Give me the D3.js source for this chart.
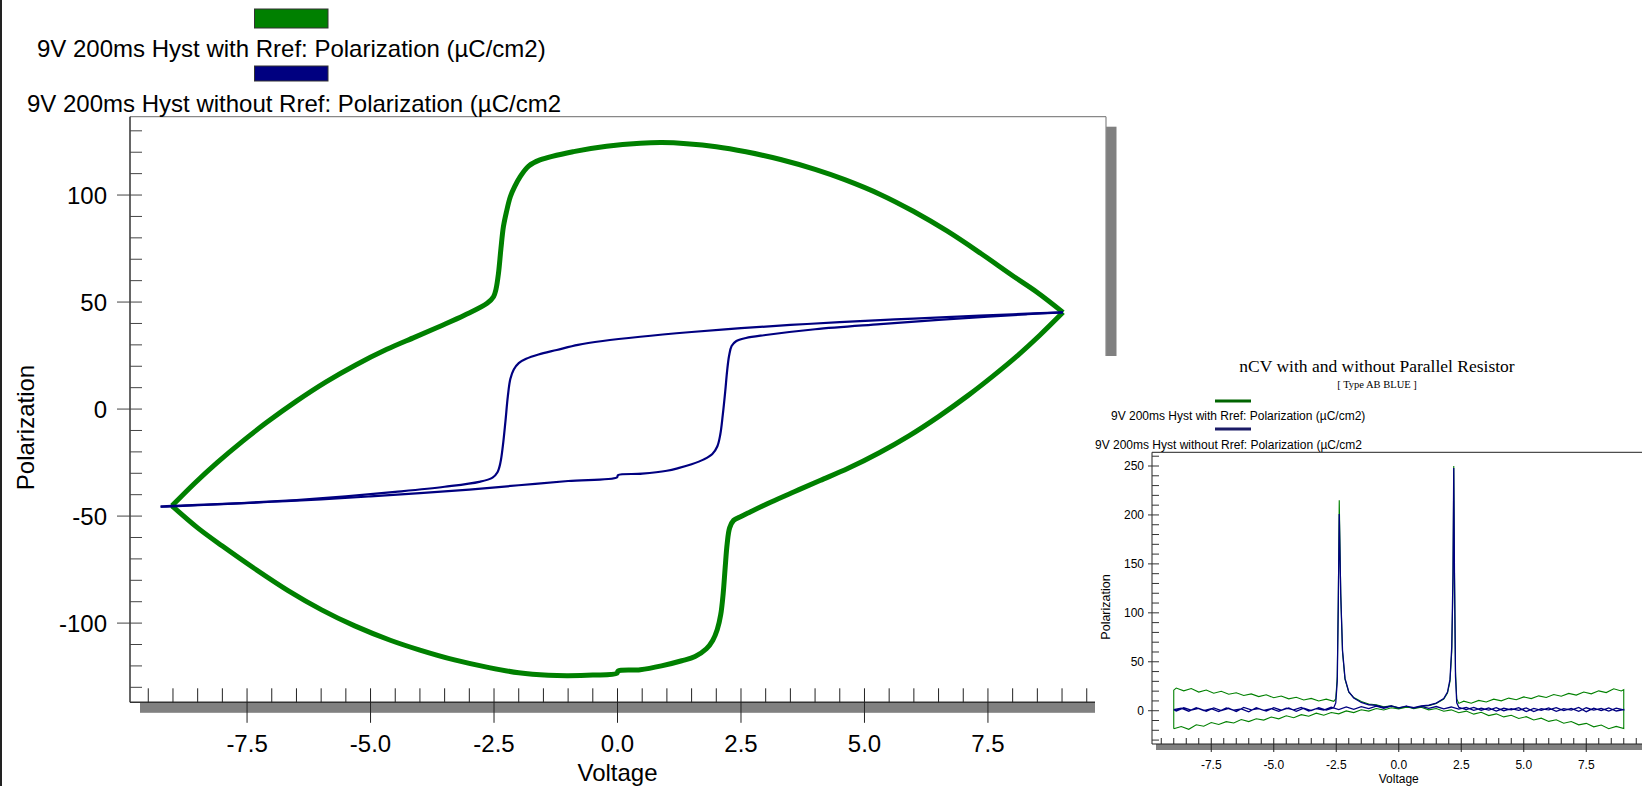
<html><head>
<script src="https://cdnjs.cloudflare.com/ajax/libs/d3/7.8.5/d3.min.js"></script>
<style>
body { margin: 0; background: #fff; }
svg { display: block; font-family: "Liberation Sans", Arial, sans-serif; }
</style>
</head>
<body>
<div id="chart"></div>
<script>
// ---- data ----
// main plot, [voltage, polarization]
// with Rref (green): lower branch swept up, upper branch swept back down
const greenLower = [[-9.02,-45.2],[-8.5,-55.5],[-8.0,-64],[-7.35,-74.5],[-6.67,-84.8],[-5.99,-93.8],[-5.32,-101.3],
  [-4.6,-108],[-4.0,-112.6],[-3.3,-117.2],[-2.6,-120.8],[-2.0,-123.2],[-1.4,-124.4],[-1.0,-124.6],[-0.5,-124.3],
  [-0.01,-123.4],[0.01,-122.4],[0.46,-121.8],[0.89,-120.0],[1.3,-117.6],[1.57,-115.6],[1.8,-112],[1.93,-108],
  [2.02,-103],[2.09,-96],[2.14,-86],[2.18,-74],[2.22,-63],[2.27,-55.5],[2.35,-52],[2.5,-50.2],[2.64,-48.6],
  [3.1,-43.5],[3.59,-38.5],[4.1,-33.4],[4.67,-27.7],[5.3,-20.4],[5.9,-12.5],[6.5,-3.5],[7.1,6.4],[7.6,15.4],
  [8.1,25],[8.55,34.5],[9.02,45.2]];
const greenUpper = [[9.02,45.2],[8.5,54.5],[8.0,62.3],[7.35,72.8],[6.67,83.2],[5.99,92.4],[5.32,100.3],[4.6,107.2],
  [4.0,112.0],[3.3,116.6],[2.6,120.2],[2.0,122.6],[1.4,124.0],[0.9,124.5],[0.46,124.2],[-0.22,122.8],[-0.89,120.3],
  [-1.57,116.4],[-1.8,113.5],[-1.97,108.6],[-2.08,104],[-2.17,99.2],[-2.25,92],[-2.31,85.2],[-2.36,75],[-2.41,63.4],
  [-2.46,56],[-2.51,52.5],[-2.64,49.4],[-3.1,43.8],[-3.59,38.7],[-4.1,33.6],[-4.67,27.9],[-5.3,20.6],[-5.9,12.7],
  [-6.5,3.7],[-7.1,-6.2],[-7.6,-15.2],[-8.1,-24.9],[-8.55,-34.4],[-9.02,-45.2]];
// without Rref (blue)
const blueUpper = [[9.02,45.2],[8.0,44.3],[7.0,43.3],[6.0,42.3],[5.32,41.6],[4.5,40.6],[3.5,39.3],[2.5,37.8],[1.5,36.0],
  [0.46,33.8],[-0.3,31.8],[-0.8,30],[-1.23,27.6],[-1.6,25.5],[-1.85,23.5],[-2.0,21.5],[-2.1,18.5],[-2.17,14],[-2.22,6],
  [-2.27,-6],[-2.32,-17],[-2.37,-25],[-2.43,-29.5],[-2.53,-32],[-2.8,-34],[-3.5,-36.3],[-4.5,-38.7],[-5.5,-40.8],
  [-6.5,-42.5],[-7.5,-43.8],[-8.5,-44.8],[-9.02,-45.2],[-9.25,-45.6]];
const blueLower = [[-9.25,-45.6],[-9.02,-45.5],[-8,-44.4],[-7,-43.3],[-6,-42.2],[-5,-40.8],[-4,-39.3],[-3,-37.6],[-2,-35.6],
  [-1,-33.6],[-0.01,-31.9],[0.01,-30.9],[0.5,-30.2],[1.0,-28.8],[1.23,-27.6],[1.5,-25.8],[1.75,-23.5],[1.92,-21],
  [2.02,-17.5],[2.08,-12],[2.13,-3],[2.18,8],[2.22,18],[2.26,25],[2.31,29.5],[2.4,31.7],[2.6,33.2],[3.0,34.6],
  [4.0,37.3],[5.32,39.7],[6.5,41.7],[7.5,43.2],[8.3,44.3],[9.02,45.2]];

// inset (nCV), [voltage, polarization]
const insetGreen = [[-9.0,-18.5],[-8.7,-16.2],[-8.4,-19.0],[-8.1,-14.3],[-7.8,-15.8],[-7.5,-12.1],[-7.2,-14.0],[-6.9,-11.2],
  [-6.6,-12.5],[-6.3,-9.0],[-6.0,-11.1],[-5.7,-8.2],[-5.4,-9.6],[-5.1,-6.4],[-4.8,-8.3],[-4.5,-5.2],[-4.2,-7.1],[-3.9,-4.0],
  [-3.6,-5.6],[-3.3,-2.5],[-3.0,-4.6],[-2.7,-1.8],[-2.4,-3.2],[-2.1,-0.2],[-1.8,-1.9],[-1.5,1.0],[-1.2,-0.4],[-0.9,2.2],
  [-0.6,0.8],[-0.3,3.0],[0.0,1.9],[0.3,3.5],[0.6,2.8],[0.9,4.5],[1.2,5.0],[1.5,7.5],[1.8,12],[1.95,18],[2.05,30],
  [2.12,60],[2.17,130],[2.2,250],[2.23,140],[2.27,40],[2.32,12],[2.4,7.5],[2.6,9.8],[2.9,7.6],[3.2,10.5],[3.5,8.9],
  [3.8,11.8],[4.1,10.1],[4.4,12.9],[4.7,11.2],[5.0,14.1],[5.3,12.4],[5.6,15.2],[5.9,13.5],[6.2,16.6],[6.5,14.8],
  [6.8,17.7],[7.1,16.0],[7.4,19.1],[7.7,17.2],[8.0,20.3],[8.3,18.5],[8.6,22.4],[8.9,20.2],[9.0,21.5],
  [9.0,-18.3],[8.7,-16.0],[8.4,-18.4],[8.1,-14.6],[7.8,-16.5],[7.5,-12.9],[7.2,-14.4],[6.9,-11.0],[6.6,-12.8],[6.3,-9.3],
  [6.0,-10.9],[5.7,-7.6],[5.4,-9.5],[5.1,-6.1],[4.8,-7.9],[4.5,-4.6],[4.2,-6.3],[3.9,-3.2],[3.6,-5.0],[3.3,-1.6],
  [3.0,-3.5],[2.7,-0.4],[2.4,-2.0],[2.1,0.9],[1.8,-0.5],[1.5,2.3],[1.2,0.9],[0.9,3.6],[0.6,2.0],[0.3,4.2],[0.0,2.9],
  [-0.3,4.9],[-0.6,4.0],[-0.9,6.1],[-1.2,6.8],[-1.5,9.4],[-1.8,13.5],[-2.0,19],[-2.15,32],[-2.25,60],[-2.32,120],
  [-2.38,215],[-2.42,110],[-2.46,35],[-2.52,12],[-2.6,9.6],[-2.9,11.8],[-3.2,9.9],[-3.5,12.6],[-3.8,11.0],[-4.1,13.7],
  [-4.4,12.1],[-4.7,15.0],[-5.0,13.2],[-5.3,16.3],[-5.6,14.4],[-5.9,17.2],[-6.2,15.6],[-6.5,18.4],[-6.8,16.9],
  [-7.1,19.8],[-7.4,17.9],[-7.7,21.2],[-8.0,19.0],[-8.3,22.6],[-8.6,20.3],[-8.9,23.1],[-9.0,21.0],[-9.0,-18.5]];
const insetBlue = [[-9.0,1.0],[-8.7,2.6],[-8.4,-0.5],[-8.1,3.1],[-7.8,0.2],[-7.5,2.0],[-7.2,-0.8],[-6.9,2.8],[-6.6,0.5],
  [-6.3,1.9],[-6.0,-1.2],[-5.7,3.0],[-5.4,0.4],[-5.1,2.2],[-4.8,-0.6],[-4.5,2.7],[-4.2,0.9],[-3.9,3.4],[-3.6,-0.3],
  [-3.3,2.1],[-3.0,0.6],[-2.7,3.6],[-2.4,1.2],[-2.1,3.9],[-1.8,1.5],[-1.5,4.2],[-1.2,2.1],[-0.9,4.6],[-0.6,2.4],
  [-0.3,4.8],[0.0,2.9],[0.3,4.7],[0.6,3.1],[0.9,5.0],[1.2,5.6],[1.5,7.8],[1.8,12.5],[1.95,19],[2.05,32],[2.12,65],
  [2.17,140],[2.2,248],[2.23,135],[2.27,35],[2.32,8],[2.4,3.5],[2.7,1.2],[3.0,3.4],[3.3,0.5],[3.6,2.9],[3.9,-0.4],
  [4.2,2.5],[4.5,0.8],[4.8,3.2],[5.1,-0.9],[5.4,2.4],[5.7,0.3],[6.0,2.8],[6.3,-0.6],[6.6,2.1],[6.9,0.7],[7.2,3.3],
  [7.5,-1.0],[7.8,2.6],[8.1,0.2],[8.4,2.9],[8.7,-0.3],[9.0,1.2],
  [9.0,0.8],[8.7,2.7],[8.4,-0.4],[8.1,2.3],[7.8,0.6],[7.5,3.0],[7.2,-0.7],[6.9,2.4],[6.6,0.1],[6.3,3.2],[6.0,0.9],
  [5.7,2.0],[5.4,-0.8],[5.1,2.9],[4.8,0.4],[4.5,2.2],[4.2,-0.2],[3.9,3.1],[3.6,0.7],[3.3,2.6],[3.0,0.3],[2.7,3.4],
  [2.4,1.6],[2.1,3.8],[1.8,1.9],[1.5,4.3],[1.2,2.4],[0.9,4.5],[0.6,2.6],[0.3,4.6],[0.0,2.7],[-0.3,4.9],[-0.6,3.3],
  [-0.9,5.4],[-1.2,6.1],[-1.5,8.4],[-1.8,13],[-2.0,19.5],[-2.15,33],[-2.25,62],[-2.32,118],[-2.38,201],[-2.42,105],
  [-2.46,30],[-2.52,8],[-2.6,3.0],[-2.9,0.6],[-3.2,3.1],[-3.5,0.2],[-3.8,2.6],[-4.1,-0.7],[-4.4,2.8],[-4.7,0.5],
  [-5.0,3.2],[-5.3,-0.4],[-5.6,2.1],[-5.9,0.8],[-6.2,3.3],[-6.5,-0.9],[-6.8,2.5],[-7.1,0.1],[-7.4,2.9],[-7.7,-0.5],
  [-8.0,2.3],[-8.3,0.6],[-8.6,3.0],[-8.9,-0.2],[-9.0,1.1]];

const mainYTicks = [-100, -50, 0, 50, 100];
const xTicks = [-7.5, -5, -2.5, 0, 2.5, 5, 7.5];
const insetYTicks = [0, 50, 100, 150, 200, 250];
const legendLabels = ["9V 200ms Hyst with Rref: Polarization (µC/cm2)", "9V 200ms Hyst without Rref: Polarization (µC/cm2"];
const seriesColors = ["#008000", "#000080"];
const insetTitle = "nCV with and without Parallel Resistor";
const insetSubtitle = "[ Type AB BLUE ]";

// ---- setup ----
const W = 1642, H = 786;
const svg = d3.select("#chart").append("svg").attr("width", W).attr("height", H);
svg.append("rect").attr("width", W).attr("height", H).attr("fill", "#fff");
svg.append("rect").attr("x", 0).attr("y", 0).attr("width", 2).attr("height", H).attr("fill", "#222");

// ---- main chart ----
const m = {left: 130, right: 1106, top: 116.7, bottom: 702.3};
const x = d3.scaleLinear().domain([-9.87, 9.89]).range([m.left, m.right]);
const y = d3.scaleLinear().domain([-137, 136.6]).range([m.bottom, m.top]);

// shadows
svg.append("rect").attr("x", m.left + 10).attr("y", m.bottom).attr("width", m.right - m.left).attr("height", 10.5).attr("fill", "#808080");
svg.append("rect").attr("x", m.right).attr("y", m.top + 10).attr("width", 10.5).attr("height", m.bottom - m.top).attr("fill", "#808080");
// frame
svg.append("line").attr("x1", m.left).attr("x2", m.right).attr("y1", m.top).attr("y2", m.top).attr("stroke", "#888").attr("stroke-width", 1.2);
svg.append("line").attr("x1", m.right).attr("x2", m.right).attr("y1", m.top).attr("y2", m.bottom).attr("stroke", "#888").attr("stroke-width", 1.2);
svg.append("line").attr("x1", m.left).attr("x2", m.left).attr("y1", m.top).attr("y2", m.bottom).attr("stroke", "#333").attr("stroke-width", 1.5);
svg.append("line").attr("x1", m.left).attr("x2", m.right).attr("y1", m.bottom).attr("y2", m.bottom).attr("stroke", "#333").attr("stroke-width", 1.5);

// y ticks
const gy = svg.append("g").attr("stroke", "#444").attr("stroke-width", 1);
d3.range(-130, 131, 10).forEach(v => {
  const major = mainYTicks.includes(v);
  gy.append("line").attr("x1", major ? m.left - 13 : m.left).attr("x2", m.left + 12)
    .attr("y1", y(v)).attr("y2", y(v));
});
svg.append("g").selectAll("text").data(mainYTicks).join("text")
  .attr("x", 107).attr("y", d => y(d)).attr("dy", "0.36em").attr("text-anchor", "end")
  .attr("font-size", 24).attr("fill", "#000").text(d => d);

// x ticks
const gx = svg.append("g").attr("stroke", "#222").attr("stroke-width", 1);
d3.range(-9.5, 9.51, 0.5).forEach(v => {
  const major = xTicks.includes(v);
  gx.append("line").attr("x1", x(v)).attr("x2", x(v))
    .attr("y1", m.bottom - 14).attr("y2", major ? m.bottom + 20.5 : m.bottom);
});
svg.append("g").selectAll("text").data(xTicks).join("text")
  .attr("x", d => x(d)).attr("y", 752).attr("text-anchor", "middle")
  .attr("font-size", 24).attr("fill", "#000").text(d => d.toFixed(1));

svg.append("text").attr("x", x(0)).attr("y", 781).attr("text-anchor", "middle")
  .attr("font-size", 24).text("Voltage");
svg.append("text").attr("transform", `translate(34,${(m.top + m.bottom) / 2 + 18}) rotate(-90)`)
  .attr("text-anchor", "middle").attr("font-size", 24).text("Polarization");

// curves
const mainLine = d3.line().x(d => x(d[0])).y(d => y(d[1])).curve(d3.curveCatmullRom.alpha(0.5));
[greenLower, greenUpper].forEach(b => svg.append("path").datum(b).attr("d", mainLine)
  .attr("fill", "none").attr("stroke", seriesColors[0]).attr("stroke-width", 5).attr("stroke-linejoin", "round"));
[blueUpper, blueLower].forEach(b => svg.append("path").datum(b).attr("d", mainLine)
  .attr("fill", "none").attr("stroke", seriesColors[1]).attr("stroke-width", 2.2).attr("stroke-linejoin", "round"));

// legend
const legRects = [{y: 9, h: 19}, {y: 66, h: 15}];
const legText = [{x: 37, y: 57}, {x: 27, y: 112}];
legendLabels.forEach((lab, i) => {
  svg.append("rect").attr("x", 254.5).attr("y", legRects[i].y).attr("width", 73.5).attr("height", legRects[i].h)
    .attr("fill", seriesColors[i]).attr("stroke", "#333").attr("stroke-width", 1);
  svg.append("text").attr("x", legText[i].x).attr("y", legText[i].y).attr("font-size", 24).text(lab);
});

// ---- inset chart ----
svg.append("rect").attr("x", 1095).attr("y", 356).attr("width", W - 1095).attr("height", H - 356).attr("fill", "#fff");

const im = {left: 1152, right: 1645, top: 452.3, bottom: 744};
const ix = d3.scaleLinear().domain([-9.87, 9.85]).range([im.left, im.right]);
const iy = d3.scaleLinear().domain([-34, 264]).range([im.bottom, im.top]);

svg.append("rect").attr("x", im.left + 4).attr("y", im.bottom).attr("width", im.right - im.left).attr("height", 6).attr("fill", "#808080");
svg.append("line").attr("x1", im.left).attr("x2", im.right).attr("y1", im.top).attr("y2", im.top).attr("stroke", "#222").attr("stroke-width", 1);
svg.append("line").attr("x1", im.left).attr("x2", im.left).attr("y1", im.top).attr("y2", im.bottom).attr("stroke", "#222").attr("stroke-width", 1);
svg.append("line").attr("x1", im.left).attr("x2", im.right).attr("y1", im.bottom).attr("y2", im.bottom).attr("stroke", "#222").attr("stroke-width", 1);

const igy = svg.append("g").attr("stroke", "#333").attr("stroke-width", 1);
d3.range(-30, 261, 10).forEach(v => {
  const major = insetYTicks.includes(v);
  igy.append("line").attr("x1", major ? im.left - 4 : im.left).attr("x2", im.left + 7)
    .attr("y1", iy(v)).attr("y2", iy(v));
});
svg.append("g").selectAll("text").data(insetYTicks).join("text")
  .attr("x", 1144).attr("y", d => iy(d)).attr("dy", "0.36em").attr("text-anchor", "end")
  .attr("font-size", 12).text(d => d);

const igx = svg.append("g").attr("stroke", "#222").attr("stroke-width", 1);
d3.range(-9.5, 9.51, 0.5).forEach(v => {
  const major = xTicks.includes(v);
  igx.append("line").attr("x1", ix(v)).attr("x2", ix(v))
    .attr("y1", im.bottom - 6).attr("y2", major ? im.bottom + 8 : im.bottom);
});
svg.append("g").selectAll("text").data(xTicks).join("text")
  .attr("x", d => ix(d)).attr("y", 769).attr("text-anchor", "middle")
  .attr("font-size", 12).text(d => d.toFixed(1));
svg.append("text").attr("x", ix(0)).attr("y", 783).attr("text-anchor", "middle").attr("font-size", 12).text("Voltage");
svg.append("text").attr("transform", `translate(1110,607) rotate(-90)`)
  .attr("text-anchor", "middle").attr("font-size", 12.5).text("Polarization");

const insetLine = d3.line().x(d => ix(d[0])).y(d => iy(d[1]));
svg.append("path").datum(insetGreen).attr("d", insetLine).attr("fill", "none")
  .attr("stroke", seriesColors[0]).attr("stroke-width", 1.1);
svg.append("path").datum(insetBlue).attr("d", insetLine).attr("fill", "none")
  .attr("stroke", seriesColors[1]).attr("stroke-width", 1.3);

// inset title + legend
svg.append("text").attr("x", 1377).attr("y", 372).attr("text-anchor", "middle")
  .attr("font-family", "'Liberation Serif', 'Times New Roman', serif").attr("font-size", 17.5).text(insetTitle);
svg.append("text").attr("x", 1377).attr("y", 388).attr("text-anchor", "middle")
  .attr("font-family", "'Liberation Serif', 'Times New Roman', serif").attr("font-size", 10.5).text(insetSubtitle);
const insetLeg = [{ly: 401, tx: 1111, ty: 420}, {ly: 429, tx: 1095, ty: 449}];
legendLabels.forEach((lab, i) => {
  svg.append("line").attr("x1", 1215).attr("x2", 1251).attr("y1", insetLeg[i].ly).attr("y2", insetLeg[i].ly)
    .attr("stroke", i === 0 ? "#006400" : "#1a1a66").attr("stroke-width", 3);
  svg.append("text").attr("x", insetLeg[i].tx).attr("y", insetLeg[i].ty).attr("font-size", 12).text(lab);
});
</script>
</body></html>
